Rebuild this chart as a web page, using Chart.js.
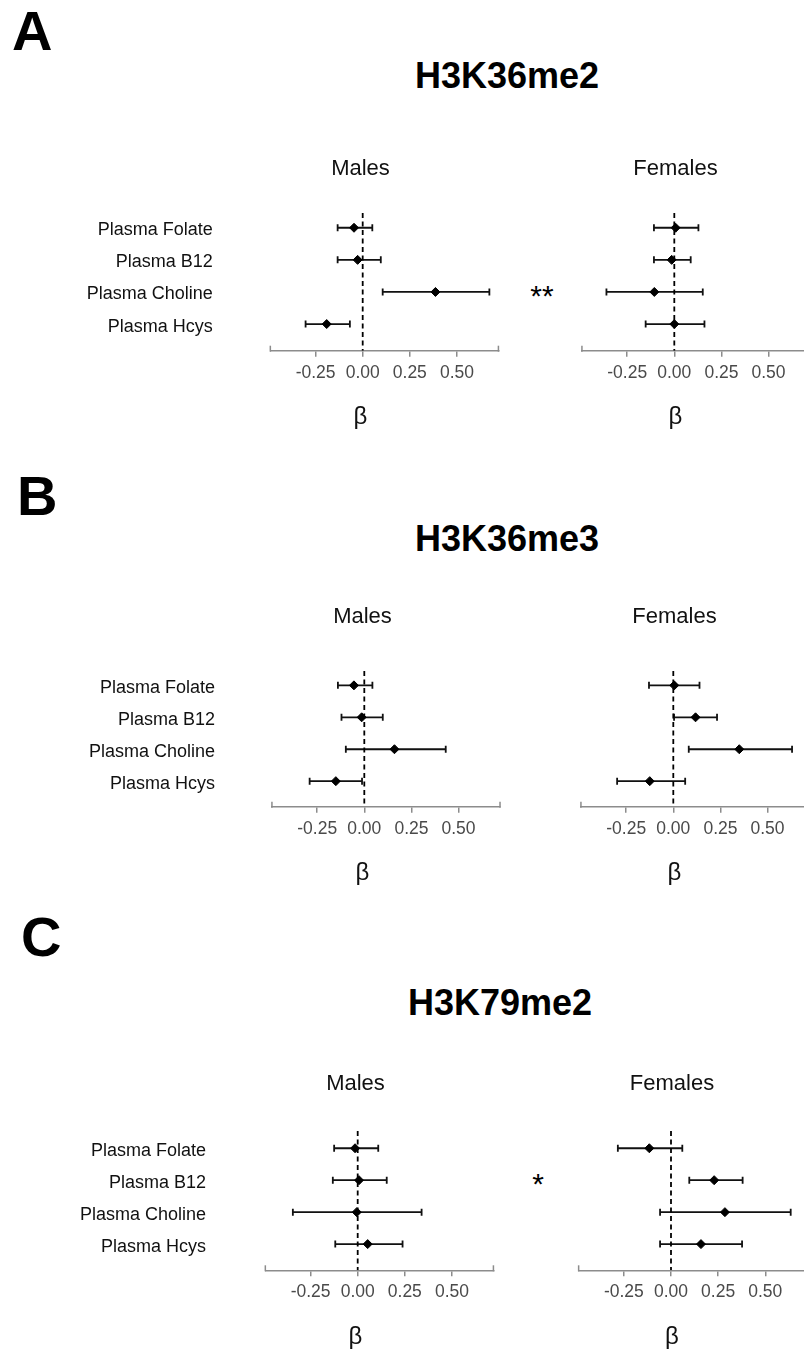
<!DOCTYPE html>
<html>
<head>
<meta charset="utf-8">
<script src="https://cdn.jsdelivr.net/npm/chart.js@4.4.1/dist/chart.umd.min.js"></script>
<style>
  html, body { margin: 0; padding: 0; background: #fff; overflow: hidden; }
  #page { position: relative; width: 804px; height: 1353px; overflow: hidden; background: #fff;
          font-family: "Liberation Sans", Arial, sans-serif; color: #000; }
  #page canvas { position: absolute; }
  .txt { position: absolute; line-height: 1; white-space: nowrap; }
  .letter { font-size: 56px; font-weight: bold; }
  .head { font-size: 36px; font-weight: bold; width: 300px; text-align: center; }
  .star { font-size: 30px; width: 60px; text-align: center; }
</style>
</head>
<body>
<div id="page">
  <div class="txt letter" style="left:12px; top:3px;">A</div>
  <div class="txt head" style="left:357px; top:58px;">H3K36me2</div>
  <div class="txt star" style="left:512px; top:281px;">**</div>

  <div class="txt letter" style="left:17px; top:468px;">B</div>
  <div class="txt head" style="left:357px; top:521px;">H3K36me3</div>

  <div class="txt letter" style="left:21px; top:909px;">C</div>
  <div class="txt head" style="left:350px; top:985px;">H3K79me2</div>
  <div class="txt star" style="left:508px; top:1169px;">*</div>

  <canvas id="aM"></canvas><canvas id="aF"></canvas>
  <canvas id="bM"></canvas><canvas id="bF"></canvas>
  <canvas id="cM"></canvas><canvas id="cF"></canvas>
</div>
<script>
// categorias e eixo
const predictors = ["Plasma Folate", "Plasma B12", "Plasma Choline", "Plasma Hcys"];
const xTickValues = [-0.25, 0, 0.25, 0.5];
const xMin = -0.49;
const xMax = 0.72;

// H3K36me2 (beta, IC inferior, IC superior)
const me2MalesBeta = [-0.046, -0.027, 0.386, -0.191];
const me2MalesLow = [-0.133, -0.133, 0.106, -0.303];
const me2MalesHigh = [0.051, 0.096, 0.672, -0.068];
const me2FemalesBeta = [0.007, -0.014, -0.106, 0.0];
const me2FemalesLow = [-0.108, -0.108, -0.36, -0.152];
const me2FemalesHigh = [0.128, 0.087, 0.151, 0.16];

// H3K36me3
const me3MalesBeta = [-0.055, -0.014, 0.16, -0.151];
const me3MalesLow = [-0.14, -0.121, -0.098, -0.29];
const me3MalesHigh = [0.043, 0.098, 0.432, -0.012];
const me3FemalesBeta = [0.005, 0.118, 0.35, -0.125];
const me3FemalesLow = [-0.129, 0.004, 0.082, -0.298];
const me3FemalesHigh = [0.139, 0.232, 0.63, 0.063];

// H3K79me2
const k79MalesBeta = [-0.014, 0.007, -0.005, 0.053];
const k79MalesLow = [-0.125, -0.132, -0.344, -0.119];
const k79MalesHigh = [0.109, 0.154, 0.339, 0.238];
const k79FemalesBeta = [-0.115, 0.229, 0.286, 0.159];
const k79FemalesLow = [-0.282, 0.097, -0.058, -0.058];
const k79FemalesHigh = [0.06, 0.38, 0.635, 0.377];

const FONT = '"Liberation Sans", Arial, sans-serif';
const UNIT = 188.5; // px por unidade de beta
const AXIS_GRAY = '#8c8c8c';

// posição de cada painel na página
const layout = [
  { id: 'aM', sex: 'Males',   zero: 362.7, tb: 176.7, ct: 213,  ay: 350.7,  yMin: -0.46, yMax: 3.83, labelRight: 212.7, beta: me2MalesBeta, low: me2MalesLow, high: me2MalesHigh },
  { id: 'aF', sex: 'Females', zero: 674.3, tb: 176.7, ct: 213,  ay: 350.7,  yMin: -0.46, yMax: 3.83, beta: me2FemalesBeta, low: me2FemalesLow, high: me2FemalesHigh },
  { id: 'bM', sex: 'Males',   zero: 364.3, tb: 625,   ct: 671,  ay: 806.7,  yMin: -0.45, yMax: 3.80, labelRight: 215, beta: me3MalesBeta, low: me3MalesLow, high: me3MalesHigh },
  { id: 'bF', sex: 'Females', zero: 673.3, tb: 625,   ct: 671,  ay: 806.7,  yMin: -0.45, yMax: 3.80, beta: me3FemalesBeta, low: me3FemalesLow, high: me3FemalesHigh },
  { id: 'cM', sex: 'Males',   zero: 357.7, tb: 1091.7, ct: 1131, ay: 1270.3, yMin: -0.54, yMax: 3.82, labelRight: 206, beta: k79MalesBeta, low: k79MalesLow, high: k79MalesHigh },
  { id: 'cF', sex: 'Females', zero: 671,   tb: 1091.7, ct: 1131, ay: 1270.3, yMin: -0.54, yMax: 3.82, beta: k79FemalesBeta, low: k79FemalesLow, high: k79FemalesHigh },
];

// barras de erro e extremidades do eixo x
const forestPlugin = {
  id: 'forest',
  beforeDatasetsDraw(chart) {
    const { ctx, scales: { x, y } } = chart;
    chart.data.datasets.forEach((ds) => {
      if (!ds.low) return;
      ctx.save();
      ctx.strokeStyle = '#111';
      ctx.lineWidth = 1.8;
      ds.low.forEach((lo, i) => {
        const yy = y.getPixelForValue(i);
        const x0 = x.getPixelForValue(lo);
        const x1 = x.getPixelForValue(ds.high[i]);
        ctx.beginPath();
        ctx.moveTo(x0, yy); ctx.lineTo(x1, yy);
        ctx.moveTo(x0, yy - 3.5); ctx.lineTo(x0, yy + 3.5);
        ctx.moveTo(x1, yy - 3.5); ctx.lineTo(x1, yy + 3.5);
        ctx.stroke();
      });
      ctx.restore();
    });
  },
  afterDraw(chart) {
    const { ctx, scales: { x }, chartArea } = chart;
    ctx.save();
    ctx.strokeStyle = AXIS_GRAY;
    ctx.lineWidth = 1.5;
    [x.min, x.max].forEach((v) => {
      const px = x.getPixelForValue(v);
      ctx.beginPath();
      ctx.moveTo(px, chartArea.bottom - 5);
      ctx.lineTo(px, chartArea.bottom + 1);
      ctx.stroke();
    });
    ctx.restore();
  }
};

const createForest = (p) => {
  const isMale = p.sex === 'Males';
  const cl = p.zero + xMin * UNIT;
  const cr = p.zero + xMax * UNIT;
  const L = isMale ? 60 : Math.round(cl - 60);
  const center = isMale ? p.zero - 2 : p.zero + 1;
  const R = Math.round(2 * center - L);
  const T = Math.round(p.tb - 35);
  const H = Math.ceil(p.ay - T + 86);
  const leftW = cl - L;
  const rightW = R - cr;
  const xAxisH = 32.3;

  const titleTop = p.tb - 20.8 - T;
  const titleBottom = p.ct - T - titleTop - 26.4;
  const subTop = 20;
  const subBottom = H - (p.ay - T) - xAxisH - subTop - 28.8;

  const canvas = document.getElementById(p.id);
  canvas.width = R - L;
  canvas.height = H;
  canvas.style.left = L + 'px';
  canvas.style.top = T + 'px';
  canvas.style.width = (R - L) + 'px';
  canvas.style.height = H + 'px';

  return new Chart(canvas.getContext('2d'), {
    type: 'scatter',
    data: {
      datasets: [
        {
          type: 'line',
          data: [{ x: 0, y: p.yMin }, { x: 0, y: p.yMax }],
          borderColor: '#000',
          borderWidth: 1.8,
          borderDash: [5, 3.5],
          pointRadius: 0,
          fill: false,
        },
        {
          data: p.beta.map((b, i) => ({ x: b, y: i })),
          low: p.low,
          high: p.high,
          pointStyle: 'rectRot',
          pointRadius: 4.5,
          borderWidth: 1,
          backgroundColor: '#000',
          borderColor: '#000',
        }
      ]
    },
    options: {
      responsive: false,
      animation: false,
      events: [],
      layout: { padding: 0 },
      plugins: {
        legend: { display: false },
        tooltip: { enabled: false },
        title: {
          display: true,
          text: p.sex,
          color: '#111',
          font: { family: FONT, size: 22, weight: 'normal', lineHeight: 1.2 },
          padding: { top: titleTop, bottom: titleBottom },
        },
        subtitle: {
          display: true,
          position: 'bottom',
          text: 'β',
          color: '#111',
          font: { family: FONT, size: 24, weight: 'normal', lineHeight: 1.2 },
          padding: { top: subTop, bottom: subBottom },
        }
      },
      scales: {
        x: {
          type: 'linear',
          min: xMin,
          max: xMax,
          afterBuildTicks: (s) => { s.ticks = xTickValues.map((v) => ({ value: v })); },
          afterFit: (s) => { s.height = xAxisH; },
          ticks: {
            callback: (v) => Number(v).toFixed(2),
            color: '#4a4a4a',
            font: { family: FONT, size: 17.5, lineHeight: 1.2 },
            padding: 5.6,
            maxRotation: 0,
            autoSkip: false,
          },
          grid: { display: true, drawOnChartArea: false, drawTicks: true, tickLength: 6, color: AXIS_GRAY, lineWidth: 1.5 },
          border: { display: true, color: AXIS_GRAY, width: 1.5 },
        },
        y: {
          type: 'linear',
          position: 'left',
          reverse: true,
          min: p.yMin,
          max: p.yMax,
          afterBuildTicks: (s) => { s.ticks = predictors.map((_, i) => ({ value: i })); },
          afterFit: (s) => { s.width = leftW; },
          ticks: {
            display: isMale,
            callback: (v) => predictors[v],
            color: '#111',
            font: { family: FONT, size: 18, lineHeight: 1.2 },
            padding: isMale ? cl - p.labelRight : 0,
            labelOffset: 2.5,
            autoSkip: false,
          },
          grid: { display: false, drawTicks: false },
          border: { display: false },
        },
        yRight: {
          type: 'linear',
          position: 'right',
          afterFit: (s) => { s.width = rightW; },
          ticks: { display: false },
          grid: { display: false, drawTicks: false },
          border: { display: false },
        }
      }
    },
    plugins: [forestPlugin]
  });
};

layout.forEach(createForest);
</script>
</body>
</html>
